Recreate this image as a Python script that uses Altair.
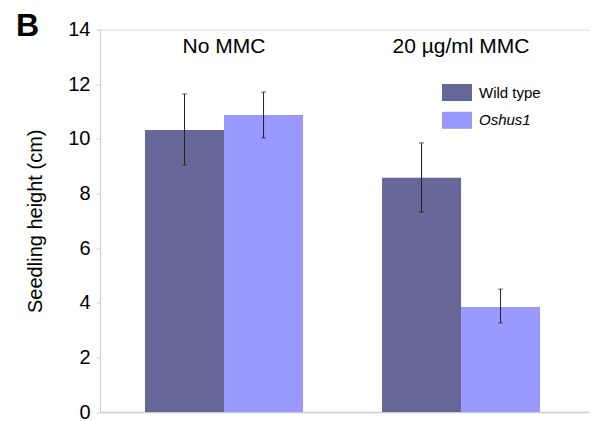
import altair as alt
import pandas as pd

groups = ["No MMC", "20 µg/ml MMC"]
genotypes = ["Wild type", "Oshus1"]
means = [10.32, 10.87, 8.57, 3.84]
err_lo = [9.04, 10.03, 7.32, 3.26]
err_hi = [11.64, 11.71, 9.85, 4.50]
colors = ["#666699", "#9999ff"]
label_styles = ["normal", "italic"]

rows = []
i = 0
for g in groups:
    for gt in genotypes:
        rows.append({"group": g, "genotype": gt, "mean": means[i], "lo": err_lo[i], "hi": err_hi[i]})
        i += 1
df = pd.DataFrame(rows)
gdf = pd.DataFrame({"group": groups})

FONT = "Liberation Sans"

xscale = alt.Scale(domain=groups, paddingInner=0.3333, paddingOuter=0.2004, align=0.474)
xoff = alt.Scale(domain=genotypes, paddingInner=0, paddingOuter=0)
yscale = alt.Scale(domain=[0, 14], nice=False)

x_enc = alt.X("group:N", scale=xscale, sort=groups,
              axis=alt.Axis(title=None, labels=False, ticks=False, domainColor="#cccccc", domainWidth=1.5))
xo_enc = alt.XOffset("genotype:N", scale=xoff, sort=genotypes)

bars = alt.Chart(df).mark_bar(opacity=1).encode(
    x=x_enc,
    xOffset=xo_enc,
    y=alt.Y("mean:Q", scale=yscale,
            axis=alt.Axis(title="Seedling height (cm)", values=[0, 2, 4, 6, 8, 10, 12, 14],
                          grid=False, tickSize=4, tickColor="#cccccc", domainColor="#cccccc",
                          labelFontSize=20, labelFont=FONT, labelColor="#000000", labelPadding=6,
                          titleFontSize=20, titleFont=FONT, titleFontWeight="normal",
                          titleColor="#000000", titlePadding=22)),
    color=alt.Color("genotype:N", scale=alt.Scale(domain=genotypes, range=colors), legend=None),
)

rules = alt.Chart(df).mark_rule(color="#222222", strokeWidth=1).encode(
    x=alt.X("group:N", scale=xscale, sort=groups),
    xOffset=xo_enc,
    y=alt.Y("lo:Q", scale=yscale),
    y2="hi:Q",
)

caps_lo = alt.Chart(df).mark_tick(color="#222222", thickness=1, size=5, orient="horizontal").encode(
    x=alt.X("group:N", scale=xscale, sort=groups),
    xOffset=xo_enc,
    y=alt.Y("lo:Q", scale=yscale),
)
caps_hi = alt.Chart(df).mark_tick(color="#222222", thickness=1, size=5, orient="horizontal").encode(
    x=alt.X("group:N", scale=xscale, sort=groups),
    xOffset=xo_enc,
    y=alt.Y("hi:Q", scale=yscale),
)

glabels = alt.Chart(gdf).mark_text(fontSize=21, font=FONT, color="#000000", baseline="alphabetic", align="center").encode(
    x=alt.X("group:N", scale=xscale, sort=groups),
    y=alt.value(23.5),
    text="group:N",
)

panel = alt.Chart(pd.DataFrame({"t": ["B"]})).mark_text(
    fontSize=32, font=FONT, fontWeight="bold", color="#000000", align="left", baseline="alphabetic"
).encode(x=alt.value(-84), y=alt.value(6.5), text="t:N")

# manual legend (so that the mutant name can be italic)
legend_layers = []
for k, gt in enumerate(genotypes):
    ldf = pd.DataFrame({"genotype": [gt]})
    top = 54.5 + 27.8 * k
    sw = alt.Chart(ldf).mark_rect(color=colors[k]).encode(
        x=alt.value(342), x2=alt.value(372), y=alt.value(top), y2=alt.value(top + 17)
    )
    tx = alt.Chart(ldf).mark_text(
        fontSize=15, font=FONT, color="#000000", align="left", baseline="middle", fontStyle=label_styles[k]
    ).encode(x=alt.value(379), y=alt.value(top + 8.5), text="genotype:N")
    legend_layers += [sw, tx]

chart = alt.layer(bars, rules, caps_lo, caps_hi, glabels, panel, *legend_layers).properties(
    width=490, height=382.5,
    padding={"left": 92, "top": 21.5, "right": 0, "bottom": 10},
    autosize=alt.AutoSizeParams(type="none"),
).configure_view(stroke=None).configure(background="white")

chart.save("out.html", embed_options={"renderer": "svg", "actions": False})
